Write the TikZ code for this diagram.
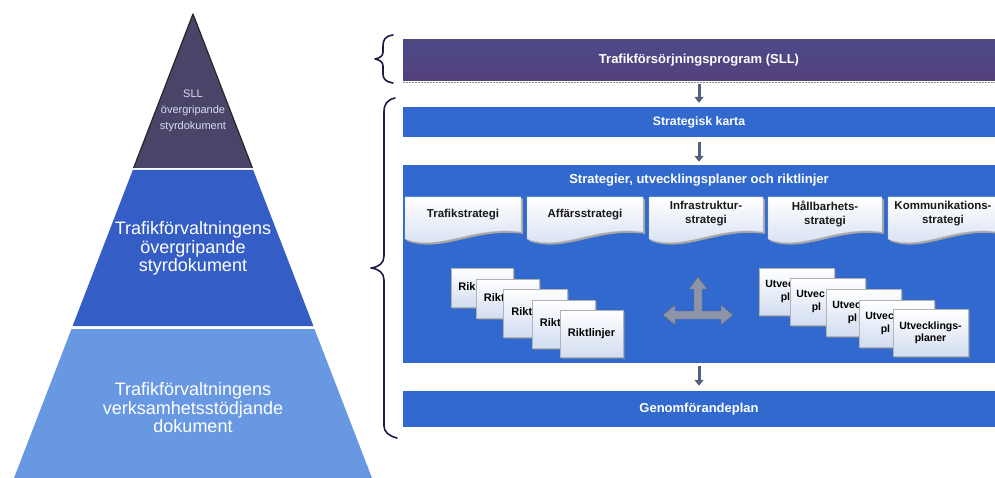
\documentclass[tikz,border=0pt]{standalone}
\usepackage{fontspec}
\setmainfont{Liberation Sans}
\usetikzlibrary{shadows,arrows.meta}
\definecolor{pyrtopc}{HTML}{4A4468}
\definecolor{pyrmidc}{HTML}{345EC6}
\definecolor{pyrbotc}{HTML}{6898E2}
\definecolor{barblue}{HTML}{3169CF}
\definecolor{purtop}{HTML}{4C4A8A}
\definecolor{purmid}{HTML}{736888}
\definecolor{purbot}{HTML}{54407C}
\definecolor{bracec}{HTML}{1E1A48}
\definecolor{arrowc}{HTML}{56607E}
\definecolor{crossc}{HTML}{8E94A8}
\definecolor{docbot}{HTML}{D2DDF1}
\definecolor{pyrtext}{HTML}{D4DEF6}
\tikzset{
  bar/.style={minimum width=592pt, inner sep=0pt, fill=barblue, text=white,
    font=\fontsize{13}{15}\selectfont\bfseries},
  flowarrow/.style={draw=arrowc, line width=3pt, -{Triangle[width=9pt,length=6pt]}},
  tabshape/.style={top color=white, bottom color=docbot, draw=white!80!black, line width=0.3pt},
  tabshadow/.style={fill=black!35},
  tabtext/.style={align=center, inner sep=0pt, text=black!90,
    font=\fontsize{11.5}{14}\selectfont\bfseries},
  docbox/.style={draw=white!70!black, line width=0.3pt, top color=white, bottom color=docbot,
    drop shadow={shadow xshift=1.5pt, shadow yshift=-1.5pt, fill=black!40},
    text=black, inner sep=0pt, align=center},
  riktbox/.style={docbox, font=\fontsize{11}{12}\selectfont\bfseries},
  utvbox/.style={docbox, minimum width=75pt, minimum height=47pt,
    font=\fontsize{10.5}{12.5}\selectfont\bfseries},
  bracestyle/.style={draw=bracec, line width=1.6pt, line cap=round, line join=round},
  pyrlabel/.style={align=center, inner sep=0pt}
}
\begin{document}
\begin{tikzpicture}[x=1pt,y=-1pt]
\useasboundingbox (0,0) rectangle (995,478);
\fill[white] (0,0) rectangle (995,478);

% ---------- pyramid ----------
\fill[pyrtopc] (193,14) -- (252.4,168) -- (133.6,168) -- cycle;
\draw[black!85, line width=1.2pt, line join=round] (133.6,168) -- (193,14) -- (252.4,168);
\fill[pyrmidc] (132.8,170) -- (253.2,170) -- (313.4,326) -- (72.6,326) -- cycle;
\fill[pyrbotc] (71.5,329) -- (314.5,329) -- (372,478) -- (14,478) -- cycle;

\node[pyrlabel, text=pyrtext, font=\fontsize{11}{16}\selectfont] (pyrtop) at (193,111)
  {SLL\\övergripande\\styrdokument};
\node[pyrlabel, text=white, font=\fontsize{18}{18.5}\selectfont] (pyrmid) at (193,248.5)
  {Trafikförvaltningens\\övergripande\\styrdokument};
\node[pyrlabel, text=white, font=\fontsize{18}{18.5}\selectfont] (pyrbot) at (193,408)
  {Trafikförvaltningens\\verksamhetsstödjande\\dokument};

% ---------- braces ----------
\draw[bracestyle] (393,35) .. controls (385,36) and (383,40) .. (383,46)
  -- (383,52) .. controls (383,56) and (380,58) .. (375,59)
  .. controls (380,60) and (383,62) .. (383,66)
  -- (383,74) .. controls (383,79) and (386,82) .. (393,83);
\draw[bracestyle] (395,98) .. controls (387,100) and (384,104) .. (384,112)
  -- (384,256) .. controls (384,263) and (379,267) .. (371,268)
  .. controls (379,269) and (384,273) .. (384,280)
  -- (384,426) .. controls (384,432) and (389,436) .. (397,438);

% ---------- bars ----------
\node[bar, minimum height=40pt, top color=purtop, middle color=purmid, bottom color=purbot,
  draw=bracec!80, line width=0.6pt] (sll) at (699,60) {Trafikförsörjningsprogram (SLL)};
\draw[black!45, line width=0.8pt, dash pattern=on 2pt off 1pt] (sll.south west) ++(0,2) -- ++(592,0);
\node[bar, minimum height=30pt, font=\fontsize{12.3}{14}\selectfont\bfseries] (karta) at (699,122) {Strategisk karta};
\node[bar, minimum height=198pt] (strat) at (699,264) {};
\node[bar, minimum width=0pt] (strattitle) at (699,180) {Strategier, utvecklingsplaner och riktlinjer};
\node[bar, minimum height=36pt] (genom) at (699,409) {Genomförandeplan};

\draw[flowarrow, shorten <=4pt, shorten >=4pt] (sll) -- (karta);
\draw[flowarrow, shorten <=5pt, shorten >=3pt] (karta) -- (strat);
\draw[flowarrow, shorten <=3pt, shorten >=5pt] (strat) -- (genom);

% ---------- strategy tabs ----------
\foreach \xa/\xb in {405/521, 527/643, 649/763, 768/882, 888/998}{
  \pgfmathsetmacro{\cpa}{\xa+0.6*(\xb-\xa)}
  \pgfmathsetmacro{\cpb}{\xa+0.3*(\xb-\xa)}
  \fill[tabshadow] (\xa+2,199) -- (\xb+2,199) -- (\xb+2,234)
     .. controls (\cpa+2,227) and (\cpb+2,254) .. (\xa+2,241) -- cycle;
  \path[tabshape] (\xa,197) -- (\xb,197) -- (\xb,232)
     .. controls (\cpa,225) and (\cpb,252) .. (\xa,239) -- cycle;
}
\node[tabtext] (tab1) at (463,215) {Trafikstrategi};
\node[tabtext] (tab2) at (585,215) {Affärsstrategi};
\node[tabtext] (tab3) at (706,214) {Infrastruktur-\\strategi};
\node[tabtext] (tab4) at (825,214) {Hållbarhets-\\strategi};
\node[tabtext] (tab5) at (943,214) {Kommunikations-\\strategi};

% ---------- riktlinjer stack (later boxes hide the text of earlier ones) ----------
\node[riktbox, minimum width=62pt, minimum height=39pt] (r1) at (482,287.5) {Rik\phantom{tlinjer}};
\node[riktbox, minimum width=63pt, minimum height=39pt] (r2) at (507.5,298.5) {Rikt\phantom{linjer}};
\node[riktbox, minimum width=64pt, minimum height=48pt] (r3) at (535,313) {Rikt\phantom{linjer}};
\node[riktbox, minimum width=63pt, minimum height=48pt] (r4) at (563.5,324) {Rikt\phantom{linjer}};
\node[riktbox, minimum width=63pt, minimum height=47pt] (r5) at (591.5,333.5) {Riktlinjer};

% ---------- utvecklingsplaner stack ----------
\node[utvbox] (u1) at (796.5,291.5) {Utvec\phantom{klings-}\\pl\phantom{aner}};
\node[utvbox] (u2) at (827.5,301.5) {Utvec\phantom{klings-}\\pl\phantom{aner}};
\node[utvbox] (u3) at (863.5,312.5) {Utvec\phantom{klings-}\\pl\phantom{aner}};
\node[utvbox] (u4) at (896.5,323.5) {Utvec\phantom{klings-}\\pl\phantom{aner}};
\node[utvbox] (u5) at (930.5,333) {Utvecklings-\\planer};

% ---------- grey cross arrow ----------
\filldraw[fill=crossc, draw=crossc!70!black, line width=0.4pt, line join=round]
  (663,315) -- (675,305) -- (675,311) -- (694,311) -- (694,289) -- (689,289)
  -- (698,277) -- (707,289) -- (702,289) -- (702,311) -- (721,311) -- (721,305)
  -- (733,315) -- (721,325) -- (721,319) -- (675,319) -- (675,325) -- cycle;
\end{tikzpicture}
\end{document}
